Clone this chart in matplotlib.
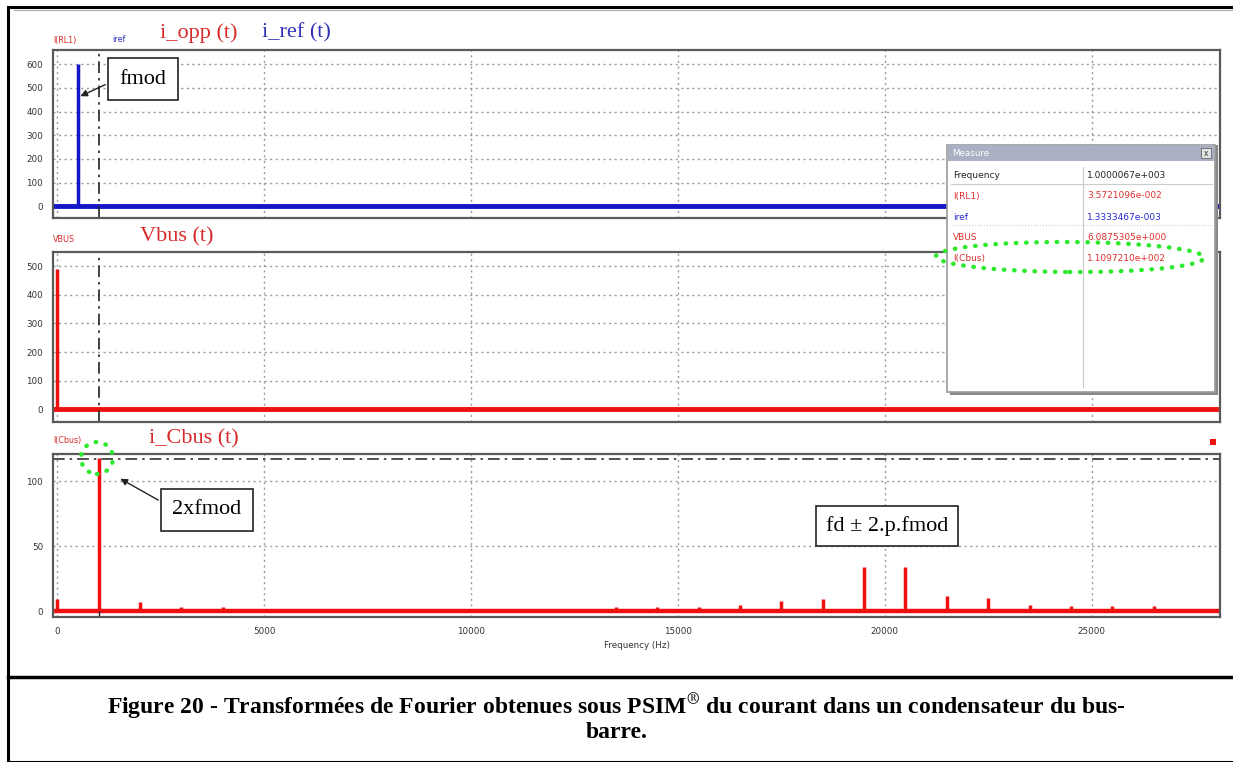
import numpy as np
import matplotlib.pyplot as plt
from matplotlib.patches import Rectangle, Ellipse
from matplotlib.lines import Line2D

# ---- data ----
iopp_freq = [500]
iopp_amp = [600]

vbus_freq = [0]
vbus_amp = [490]

icbus_freq = [0, 1000, 2000, 3000, 4000, 4500, 6000, 7000, 9500, 11500, 13000,
              13500, 14000, 14500, 15500, 16000, 16500, 17500, 18500, 19500,
              20500, 21500, 22500, 23500, 24000, 24500, 25500, 26000, 26500,
              27000, 27500]
icbus_amp = [9, 118, 7, 3, 3, 2, 2, 2, 2, 2, 2,
             3, 2, 3, 3, 2, 5, 8, 9, 34,
             34, 12, 10, 5, 2, 4, 4, 2, 4,
             2, 2]

cursor_freq = 1000
cursor_level = 117

x_ticks = [0, 5000, 10000, 15000, 20000, 25000]

measure_names = ["Frequency", "I(RL1)", "iref", "VBUS", "I(Cbus)"]
measure_values = ["1.0000067e+003", "3.5721096e-002", "1.3333467e-003",
                  "6.0875305e+000", "1.1097210e+002"]
measure_colors = ["#222222", "#e03030", "#2a2ad0", "#e03030", "#e03030"]

W, H = 1233, 762
RED = "#f01010"
BLUE = "#1515c8"
LRED = "#d82a2a"
LBLUE = "#3030b8"
SERIF = "Liberation Serif"


def fx(px):
    return px / W


def fy(py):
    return 1 - py / H


def add_panel(top, bottom, yticks, ylim, xlabels=False):
    ax = fig.add_axes([fx(53), fy(bottom), fx(1220 - 53), (bottom - top) / H])
    ax.set_xlim(-100, 28100)
    ax.set_ylim(*ylim)
    ax.set_xticks(x_ticks)
    ax.set_yticks(yticks)
    ax.grid(True, color="#9a9a9a", ls=(0, (1.5, 2.5)), lw=1)
    ax.tick_params(length=0, labelsize=6.3, colors="#333333", pad=7)
    if not xlabels:
        ax.set_xticklabels([])
    for s in ax.spines.values():
        s.set_color("#5a5a5a")
        s.set_linewidth(1.6)
    ax.set_axisbelow(True)
    return ax


fig = plt.figure(figsize=(W / 100, H / 100), dpi=100)

# ---- panel 1 : i_opp / i_ref ----
ax1 = add_panel(50, 218, range(0, 700, 100), (-50, 660))
ax1.axhline(0, color=BLUE, lw=3.5)
ax1.vlines(iopp_freq, 0, iopp_amp, color=BLUE, lw=2.5)
ax1.axvline(cursor_freq, color="#222222", lw=1.2, ls=(0, (7, 3, 1.5, 3)))
ax1.annotate("fmod", xy=(500, 460), xytext=(fx(143), fy(79)),
             textcoords="figure fraction", ha="center", va="center",
             fontsize=16, family=SERIF,
             bbox=dict(boxstyle="square,pad=0.5", fc="white", ec="#222222", lw=1.2),
             arrowprops=dict(arrowstyle="-|>", color="#222222", lw=1,
                             relpos=(0, 0.55), mutation_scale=10))

# ---- panel 2 : Vbus ----
ax2 = add_panel(252, 422, range(0, 600, 100), (-45, 550))
ax2.axhline(0, color=RED, lw=3.5)
ax2.vlines(vbus_freq, 0, vbus_amp, color=RED, lw=2.5)
ax2.axvline(cursor_freq, color="#222222", lw=1.2, ls=(0, (7, 3, 1.5, 3)))

# ---- panel 3 : i_Cbus ----
ax3 = add_panel(454, 617, [0, 50, 100], (-4.5, 121), xlabels=True)
ax3.axhline(0, color=RED, lw=3.2)
ax3.axvline(cursor_freq, color="#222222", lw=1.0, ymax=0.97)
ax3.vlines(icbus_freq, 0, icbus_amp, color=RED, lw=2.5)
ax3.axhline(cursor_level, color="#333333", lw=1.2, ls=(0, (7, 3, 1.5, 3)))
ax3.set_xlabel("Frequency (Hz)", fontsize=6.3, color="#333333", labelpad=4)
ax3.annotate("2xfmod", xy=(1470, 103), xytext=(fx(207), fy(510)),
             textcoords="figure fraction", ha="center", va="center",
             fontsize=16, family=SERIF,
             bbox=dict(boxstyle="square,pad=0.5", fc="white", ec="#222222", lw=1.2),
             arrowprops=dict(arrowstyle="-|>", color="#222222", lw=1,
                             relpos=(0, 0.6), mutation_scale=10))
fig.text(fx(887), fy(526), "fd ± 2.p.fmod", ha="center", va="center",
         fontsize=16, family=SERIF,
         bbox=dict(boxstyle="square,pad=0.45", fc="white", ec="#222222", lw=1.2))

# ---- labels above the panels ----
fig.text(fx(53), fy(40), "I(RL1)", fontsize=5.8, color=LRED, va="center")
fig.text(fx(112), fy(40), "iref", fontsize=5.8, color=LBLUE, va="center")
fig.text(fx(160), fy(33), "i_opp (t)", fontsize=16, color=LRED, family=SERIF, va="center")
fig.text(fx(262), fy(33), "i_ref (t)", fontsize=16, color=LBLUE, family=SERIF, va="center")
fig.text(fx(53), fy(239), "VBUS", fontsize=5.8, color=LRED, va="center")
fig.text(fx(140), fy(237), "Vbus (t)", fontsize=16, color=LRED, family=SERIF, va="center")
fig.text(fx(53), fy(441), "I(Cbus)", fontsize=5.8, color=LRED, va="center")
fig.text(fx(149), fy(439), "i_Cbus (t)", fontsize=16, color=LRED, family=SERIF, va="center")
fig.add_artist(Rectangle((fx(1210), fy(445)), fx(6), 6 / H, transform=fig.transFigure,
                         fc=RED, ec="none"))

# ---- Measure window ----
fig.add_artist(Rectangle((fx(950), fy(395)), fx(268), 250 / H, transform=fig.transFigure,
                         fc="#8a8a8a", ec="none", zorder=5))
fig.add_artist(Rectangle((fx(947), fy(392)), fx(268), 247 / H, transform=fig.transFigure,
                         fc="white", ec="#9a9a9a", lw=1.2, zorder=6))
fig.add_artist(Rectangle((fx(948), fy(161)), fx(266), 16 / H, transform=fig.transFigure,
                         fc="#aab0c4", ec="none", zorder=7))
fig.text(fx(952), fy(153), "Measure", fontsize=6.3, color="white", va="center", zorder=8)
fig.add_artist(Rectangle((fx(1201), fy(158)), fx(10), 10 / H, transform=fig.transFigure,
                         fc="#e4e4e4", ec="#666666", lw=0.6, zorder=8))
fig.text(fx(1206), fy(153), "x", fontsize=5.5, ha="center", va="center", color="#333333", zorder=9)
fig.add_artist(Line2D([fx(1083), fx(1083)], [fy(167), fy(387)], transform=fig.transFigure,
                      color="#c8c8c8", lw=0.8, zorder=7))
fig.add_artist(Line2D([fx(951), fx(1212)], [fy(184), fy(184)], transform=fig.transFigure,
                      color="#cccccc", lw=0.8, zorder=7))
fig.add_artist(Line2D([fx(951), fx(1212)], [fy(225), fy(225)], transform=fig.transFigure,
                      color="#cccccc", lw=0.8, ls=":", zorder=7))
row_y = [176, 196, 217, 237, 258]
for name, val, col, yy in zip(measure_names, measure_values, measure_colors, row_y):
    fig.text(fx(953), fy(yy), name, fontsize=6.5, color=col, va="center", zorder=8)
    fig.text(fx(1087), fy(yy), val, fontsize=6.5, color=col, va="center", zorder=8)

# ---- green dotted highlights ----
dots = dict(fill=False, ec="#2ee82e", lw=3.2, ls=(0, (0.1, 2.2)), capstyle="round",
            transform=fig.transFigure, zorder=10)
fig.add_artist(Ellipse((fx(1070), fy(257)), fx(268), 30 / H, angle=-0.5, **dots))
fig.add_artist(Ellipse((fx(97), fy(458)), fx(32), 32 / H, **dots))

# ---- document frame and caption ----
fig.add_artist(Rectangle((fx(8), 0), fx(1240), fy(7), transform=fig.transFigure,
                         fill=False, ec="black", lw=2.2))
fig.add_artist(Line2D([fx(14), fx(1233)], [fy(10), fy(10)], transform=fig.transFigure,
                      color="#aaaaaa", lw=0.8))
fig.add_artist(Line2D([fx(8), 1], [fy(677), fy(677)], transform=fig.transFigure,
                      color="black", lw=2.5))

plt.rcParams["mathtext.fontset"] = "stix"
fig.text(0.5, fy(706),
         r"Figure 20 - Transformées de Fourier obtenues sous PSIM$^{\circledR}$ du courant dans un condensateur du bus-",
         ha="center", va="center", fontsize=17, family=SERIF, weight="bold")
fig.text(0.5, fy(732), "barre.", ha="center", va="center", fontsize=17,
         family=SERIF, weight="bold")

plt.savefig("out.png", dpi=100)
